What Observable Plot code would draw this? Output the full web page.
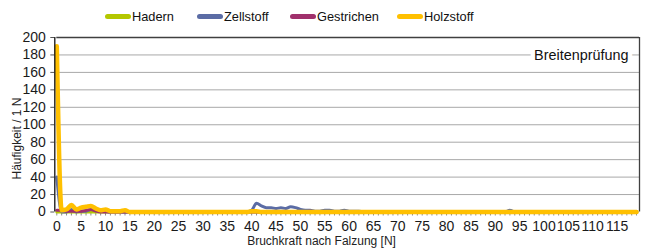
<!DOCTYPE html>
<html>
<head>
<meta charset="utf-8">
<script src="https://cdn.jsdelivr.net/npm/d3@7"></script>
<script src="https://cdn.jsdelivr.net/npm/@observablehq/plot@0.6"></script>
<style>
  html, body { margin: 0; padding: 0; background: #fff; }
  #wrap { width: 651px; position: relative; font-family: "Liberation Sans", Arial, sans-serif; }
  #legend { position: relative; height: 30px; width: 651px; }
  .item { position: absolute; top: 9px; height: 14px; display: flex; align-items: center;
          font-family: "Liberation Sans Narrow", "Arial Narrow", "Liberation Sans", sans-serif; font-size: 12.8px; color: #111; }
  .sw { width: 26px; height: 5px; border-radius: 3px; margin-right: 1px; }
  svg { display: block; }
  g[aria-label="x-axis tick label"], g[aria-label="y-axis tick label"] { font-size: 14px; fill: #1a1a1a; }
</style>
</head>
<body>
<div id="wrap">
  <div id="legend"></div>
  <div id="chart"></div>
</div>
<script>
// Categories: Bruchkraft nach Falzung [N], 0 … 119
const forces = d3.range(0, 120);

const seriesNames = ["Hadern", "Zellstoff", "Gestrichen", "Holzstoff"];
const seriesColors = ["#b4c700", "#5b6ca5", "#a0306c", "#ffc000"];
const seriesWidths = [3, 3, 3, 4.5];
const legendLeft = [105, 197, 290, 397];

// values per 1 N class (index = force)
const hadern = [
  0,0,0,0,0,0,0,0,0,0, 0,0,0,0,0,0,0,0,0,0,
  0,0,0,0,0,0,0,0,0,0, 0,0,0,0,0,0,0,0,0,0,
  0,0,0,0,0,0,0,0,0,0, 0,0,0,0,0,0,0,0,0,0,
  0,0,0,0,0,0,0,0,0,0, 0,0,0,0,0,0,0,0,0,0,
  0,0,0,0,0,0,0,0,0,0, 0,0,0,0,0,0,0,0,0,0,
  0,0,0,0,0,0,0,0,0,0, 0,0,0,0,0,0,0,0,0,0
];
const zellstoff = [
  40,0,0,3,0,1,1,3,3,2, 1,0,0,0,0,0,0,0,0,0,
  0,0,0,0,0,0,0,0,0,0, 0,0,0,0,0,0,0,0,0,0,
  2,10,7,5,5,4,5,4,6,5, 3,2,2,1,1,2,2,1,1,2,
  1,1,1,0,0,0,0,0,0,0, 0,0,0,0,0,0,0,0,0,0,
  0,0,0,0,0,0,0,0,0,0, 0,0,0,2,0,0,0,0,0,0,
  0,0,0,0,0,0,0,0,0,0, 0,0,0,0,0,0,0,0,0,0
];
const gestrichen = [
  2,2,1,1,1,1,2,3,1,0, 0,0,0,0,0,0,0,0,0,0,
  0,0,0,0,0,0,0,0,0,0, 0,0,0,0,0,0,0,0,0,0,
  0,0,0,0,0,0,0,0,0,0, 0,0,1,0,0,0,0,0,0,0,
  0,0,0,0,0,0,0,0,0,0, 0,0,0,0,0,0,0,0,0,0,
  0,0,0,0,0,0,0,0,0,0, 0,0,0,0,0,0,0,0,0,0,
  0,0,0,0,0,0,0,0,0,0, 0,0,0,0,0,0,0,0,0,0
];
const holzstoff = [
  190,2,3,8,3,5,6,7,4,2, 3,1,1,1,2,0,0,0,0,0,
  0,0,0,0,0,0,0,0,0,0, 0,0,0,0,0,0,0,0,0,0,
  1,1,0,0,0,0,0,0,0,0, 0,0,0,0,0,0,0,0,0,0,
  0,0,0,0,0,0,0,0,0,0, 0,0,0,0,0,0,0,0,0,0,
  0,0,0,0,0,0,0,0,0,0, 0,0,0,0,0,0,0,0,0,0,
  0,0,0,0,0,0,0,0,0,0, 0,0,0,0,0,0,0,0,0,0
];
const seriesValues = [hadern, zellstoff, gestrichen, holzstoff];

const yTicks = d3.range(0, 201, 20);
const xLabelTicks = d3.range(0, 120, 5);
const xMinorTicks = forces;
const xMax = 119.6;

const chartTitle = "Breitenprüfung";
const xTitle = "Bruchkraft nach Falzung [N]";
const yTitle = "Häufigkeit / 1 N";

// legend
const legend = document.getElementById("legend");
seriesNames.forEach((name, i) => {
  const it = document.createElement("div");
  it.className = "item";
  it.style.left = legendLeft[i] + "px";
  const sw = document.createElement("span");
  sw.className = "sw";
  sw.style.background = seriesColors[i];
  const tx = document.createElement("span");
  tx.textContent = name;
  it.appendChild(sw); it.appendChild(tx);
  legend.appendChild(it);
});

const lineMarks = seriesNames.map((name, i) =>
  Plot.line(forces.map((f, j) => ({force: f, value: seriesValues[i][j]})), {
    x: "force", y: "value", stroke: seriesColors[i], strokeWidth: seriesWidths[i],
    curve: "monotone-x", strokeLinejoin: "round", strokeLinecap: "round"
  })
);

const plot = Plot.plot({
  width: 651,
  height: 221,
  marginTop: 7,
  marginBottom: 39.5,
  marginLeft: 56.3,
  marginRight: 12,
  style: {fontFamily: "'Liberation Sans', Arial, sans-serif", fontSize: "13px", color: "#222", background: "#fff"},
  x: {domain: [0, xMax], axis: null},
  y: {domain: [0, 200], axis: null},
  marks: [
    Plot.ruleY(yTicks.filter(d => d > 0 && d < 200), {stroke: "#a8a8a8", strokeWidth: 1}),
    Plot.ruleY([0], {stroke: "#a8a8a8", strokeWidth: 1}),
    Plot.ruleY([200], {stroke: "#404040", strokeWidth: 1.3}),
    Plot.ruleX([xMax], {y1: 0, y2: 200, stroke: "#404040", strokeWidth: 1.3}),
    Plot.text([chartTitle], {frameAnchor: "top-right", textAnchor: "end", lineAnchor: "middle",
      dx: -11, dy: 18, fontSize: 14.4, fill: "#111", stroke: "white", strokeWidth: 9, strokeLinejoin: "round",
      paintOrder: "stroke"}),
    Plot.axisX({ticks: xMinorTicks, tickSize: 3, tickFormat: () => "", stroke: "#8a8a8a", dy: 1, label: null}),
    Plot.axisX({ticks: xLabelTicks, tickSize: 0, tickPadding: 9, label: null}),
    Plot.axisY({ticks: yTicks, tickSize: 4, tickPadding: 5, dx: -2, label: null, stroke: "#555"}),
    ...lineMarks,
    Plot.ruleX([0], {y1: 0, y2: 200, stroke: "#111", strokeWidth: 1.3, dx: -2}),
    Plot.text([xTitle], {frameAnchor: "bottom", textAnchor: "middle", lineAnchor: "middle",
      dx: -26.6, dy: 29.5, fontSize: 12, fill: "#222"}),
    Plot.text([yTitle], {frameAnchor: "left", textAnchor: "middle", lineAnchor: "middle", rotate: -90,
      dx: -39.8, dy: 13.75, fontSize: 12, fill: "#222"})
  ]
});
document.getElementById("chart").appendChild(plot);
</script>
</body>
</html>
